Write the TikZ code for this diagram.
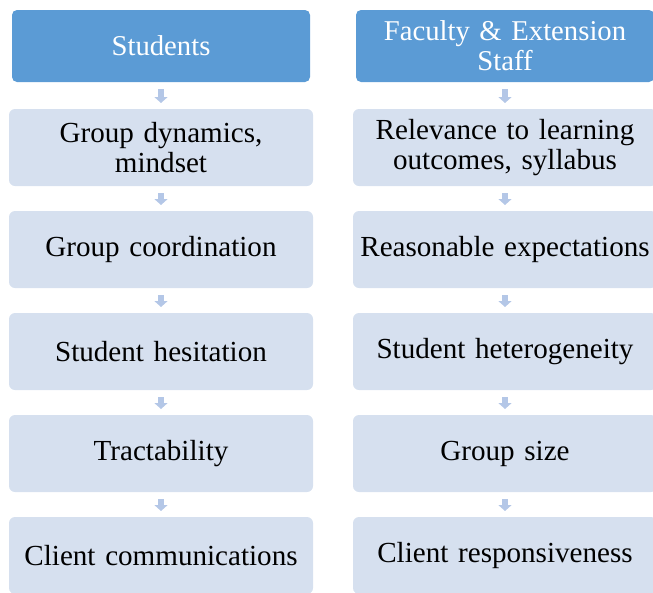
\documentclass[tikz,border=0pt]{standalone}
\usepackage{fontspec}
\setmainfont{Liberation Serif}
\usetikzlibrary{positioning,arrows.meta}

\definecolor{headblue}{HTML}{5B9BD5}
\definecolor{itemblue}{HTML}{D6E0EF}
\definecolor{linkblue}{HTML}{B4C7E7}

\begin{document}
\begin{tikzpicture}[x=1pt,y=1pt,every node/.style={outer sep=0pt,inner sep=2pt}]
\tikzset{
    head/.style = {fill=headblue,draw=none,rounded corners=5pt,text=white,align=center,
                        minimum width=298pt,minimum height=72pt,text width=290pt,
                        font=\fontsize{28.7}{30}\selectfont},
    item/.style = {fill=itemblue,draw=none,rounded corners=6pt,text=black,align=center,
                        minimum width=302pt,minimum height=77pt,text width=300pt,
                        font=\fontsize{29.1}{30.5}\selectfont},
    link/.style = {draw=linkblue,line width=6pt,shorten <=7pt,shorten >=6pt,
                        -{Triangle[width=13pt,length=6pt]}}
}

\clip (0,0) rectangle (653,-592);      %%% picture is cut at right and bottom

%% students column
\node (s0) [head] at (161,-46) {Students};
\node (s1) [item,below=27pt of s0] {Group dynamics,\\mindset};
\node (s2) [item,below=25pt of s1] {Group coordination};
\node (s3) [item,below=25pt of s2] {Student hesitation};
\node (s4) [item,below=25pt of s3] {Tractability};
\node (s5) [item,below=25pt of s4] {Client communications};

\draw [link] (s0) -- (s1);
\draw [link] (s1) -- (s2);
\draw [link] (s2) -- (s3);
\draw [link] (s3) -- (s4);
\draw [link] (s4) -- (s5);

%% faculty column
\node (f0) [head] at (505,-46) {Faculty \& Extension\\Staff};
\node (f1) [item,below=27pt of f0] {Relevance to learning\\outcomes, syllabus};
\node (f2) [item,below=25pt of f1] {Reasonable expectations};
\node (f3) [item,below=25pt of f2] {Student heterogeneity};
\node (f4) [item,below=25pt of f3] {Group size};
\node (f5) [item,below=25pt of f4] {Client responsiveness};

\draw [link] (f0) -- (f1);
\draw [link] (f1) -- (f2);
\draw [link] (f2) -- (f3);
\draw [link] (f3) -- (f4);
\draw [link] (f4) -- (f5);

\end{tikzpicture}
\end{document}
